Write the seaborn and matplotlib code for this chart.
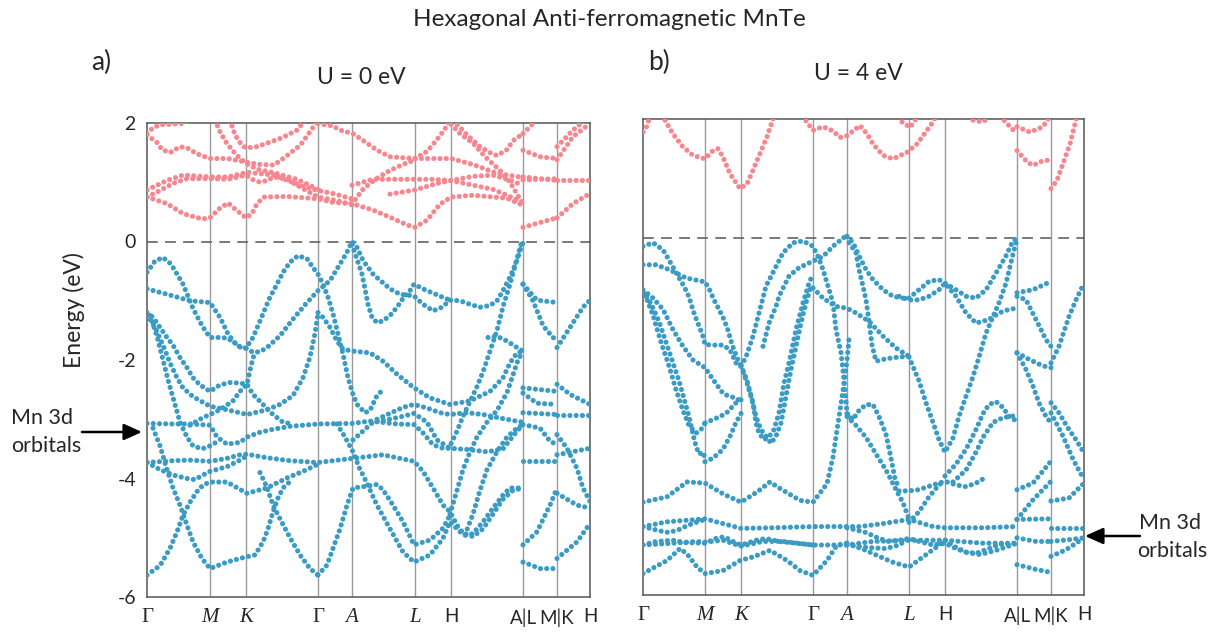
import matplotlib
matplotlib.use("Agg")
import matplotlib.pyplot as plt
import pandas as pd
import seaborn as sns

PINK = "#F7868F"
BLUE = "#3A9BC4"

# high-symmetry path positions (k-path distance units) and their labels
KPATH_A = [0, 63, 99, 171, 205, 268, 304, 376, 410, 443]
KPATH_B = [0, 62, 98, 170, 204, 266, 302, 374, 408, 441]
KLABELS = ["Γ", "M", "K", "Γ", "A", "L", "H", "A|L", "M|K", "H"]
YTICKS = [-6, -4, -2, 0, 1, 2]
YTICKLABELS = ["-6", "-4", "-2", "0", "", "2"]

# ---------------- U = 0 eV : conduction bands (k, E) ----------------
A_COND = [
    [(0, 0.75), (20, 0.64), (36, 0.47), (55, 0.38), (63, 0.40), (72, 0.55), (81, 0.65), (90, 0.52),
     (99, 0.40), (105, 0.47), (110, 0.64), (117, 0.75), (140, 0.76), (171, 0.72), (186, 0.66),
     (205, 0.64), (226, 0.53), (243, 0.41), (260, 0.28), (268, 0.24), (280, 0.36), (293, 0.63),
     (304, 0.75), (326, 0.78), (360, 0.73), (376, 0.61)],
    [(0, 0.87), (20, 1.03), (36, 1.12), (63, 1.09), (81, 1.09), (96, 1.15), (99, 1.17), (110, 1.15),
     (127, 1.12), (153, 0.95), (171, 0.86), (186, 0.81), (205, 0.72)],
    [(0, 0.75), (13, 0.86), (26, 0.98), (40, 1.06), (63, 1.06), (81, 1.05), (99, 1.12), (105, 1.05),
     (113, 1.00), (120, 1.03), (127, 1.09), (140, 1.05), (153, 0.92), (171, 0.75), (190, 0.69), (205, 0.62)],
    [(0, 1.80), (10, 1.67), (15, 1.55), (23, 1.50), (33, 1.60), (40, 1.58), (50, 1.48), (63, 1.40),
     (81, 1.40), (99, 1.34), (113, 1.30), (127, 1.29), (140, 1.45), (153, 1.62), (160, 1.78),
     (167, 1.95), (170, 2.05)],
    [(0, 1.82), (6, 1.92), (13, 1.97), (36, 1.99), (42, 2.05)],
    [(68, 2.05), (73, 1.85), (80, 1.65), (90, 1.45), (99, 1.32), (110, 1.22), (127, 1.16), (150, 1.05), (171, 0.88)],
    [(83, 2.05), (88, 1.80), (95, 1.62), (99, 1.58), (110, 1.60), (120, 1.66), (135, 1.75), (150, 1.88), (158, 2.05)],
    [(171, 1.99), (186, 1.95), (193, 1.88), (206, 1.82), (220, 1.66), (230, 1.54), (243, 1.43),
     (268, 1.40), (290, 1.40), (304, 1.40), (326, 1.30), (350, 1.15), (376, 1.08)],
    [(306, 2.05), (320, 1.80), (333, 1.60), (343, 1.50), (350, 1.45), (360, 1.55), (366, 1.70), (376, 1.82)],
    [(304, 1.98), (313, 1.82), (326, 1.66), (340, 1.40), (353, 1.20), (363, 1.00), (370, 0.80), (376, 0.63)],
    [(268, 1.40), (280, 1.52), (290, 1.72), (298, 1.90), (302, 2.05)],
    [(205, 0.95), (226, 1.05), (250, 1.05), (268, 1.05), (286, 1.05), (304, 1.03), (326, 0.95),
     (346, 0.88), (360, 0.78), (376, 0.66)],
    [(243, 0.80), (268, 0.87), (290, 0.98), (304, 1.03), (326, 1.10), (346, 1.12), (360, 1.05), (376, 0.95)],
    [(205, 0.62), (210, 0.75), (216, 0.88), (223, 0.98), (233, 1.10), (243, 1.20), (256, 1.30), (268, 1.38)],
    # L -> M
    [(376, 1.82), (386, 1.99), (390, 2.05)],
    [(376, 1.54), (393, 1.43), (410, 1.40)],
    [(376, 1.09), (410, 1.03)],
    [(376, 1.04), (410, 1.06)],
    [(376, 0.24), (393, 0.32), (410, 0.40)],
    # K -> H
    [(410, 1.60), (426, 1.88), (438, 2.05)],
    [(410, 1.38), (426, 1.77), (443, 1.99)],
    [(410, 1.03), (443, 1.03)],
    [(410, 0.40), (426, 0.64), (443, 0.81)],
]

# ---------------- U = 0 eV : valence bands (k, E) ----------------
A_VAL = [
    [(0, -0.52), (8, -0.33), (16, -0.27), (24, -0.38), (30, -0.55), (36, -0.72), (46, -1.13),
     (55, -1.42), (63, -1.62), (72, -1.62), (80, -1.63), (87, -1.70), (93, -1.78), (99, -1.80),
     (106, -1.87), (113, -1.86), (120, -1.79), (133, -1.59), (146, -1.31), (160, -1.03), (171, -0.83),
     (183, -0.66), (193, -0.38), (200, -0.18), (205, 0.0), (210, -0.10), (216, -0.32), (226, -0.55),
     (243, -0.80), (253, -0.89), (267, -0.92), (276, -1.06), (286, -1.17), (295, -1.11), (303, -0.99),
     (313, -1.00), (323, -1.06), (333, -1.11), (343, -1.08), (350, -1.00), (356, -0.83), (363, -0.60),
     (370, -0.32), (374, -0.10), (376, -0.02)],
    [(0, -0.80), (20, -0.89), (43, -1.00), (63, -1.03), (73, -1.28), (81, -1.56), (90, -1.76),
     (99, -1.80), (106, -1.62), (113, -1.34), (118, -1.14), (123, -0.94), (130, -0.72), (136, -0.52),
     (143, -0.35), (151, -0.24), (160, -0.29), (166, -0.44), (171, -0.55), (176, -0.72), (181, -0.94),
     (186, -1.22), (191, -1.56), (196, -1.90), (201, -2.30), (206, -2.58), (210, -2.75), (218, -2.89),
     (223, -2.85), (230, -2.60), (236, -2.50)],
    [(171, -1.20), (176, -1.28), (183, -1.45), (190, -1.68), (196, -1.82), (206, -1.85), (223, -1.88),
     (236, -2.02), (250, -2.24), (267, -2.47), (283, -2.64), (303, -2.75), (323, -2.69), (343, -2.53),
     (356, -2.30), (363, -2.05), (370, -1.88), (376, -1.85)],
    [(205, -0.05), (215, -0.55), (218, -0.80), (221, -1.06), (225, -1.28), (230, -1.37), (236, -1.34),
     (243, -1.25), (250, -1.11), (256, -0.96), (263, -0.83), (267, -0.72), (276, -0.80), (290, -0.90), (303, -0.99)],
    [(374, -0.05), (369, -0.35), (363, -0.72), (356, -1.10), (350, -1.50), (343, -1.85), (336, -2.20),
     (330, -2.45), (323, -2.70), (316, -2.95), (310, -3.20), (303, -3.45)],
    [(303, -4.60), (310, -4.20), (316, -3.85), (323, -3.55), (330, -3.30), (340, -3.05), (350, -2.85),
     (360, -2.55), (366, -2.25), (371, -2.00), (376, -1.85)],
    [(318, -4.95), (326, -4.60), (333, -4.20), (340, -3.85), (350, -3.55), (360, -3.30), (370, -3.15), (376, -3.09)],
    [(341, -1.62), (350, -1.60), (360, -1.68), (370, -1.79), (376, -1.85)],
    [(0, -1.20), (6, -1.28), (13, -1.45), (20, -1.62), (26, -1.75), (33, -1.96), (40, -2.13), (46, -2.30),
     (53, -2.42), (63, -2.53), (73, -2.42), (83, -2.38), (93, -2.39), (100, -2.41), (106, -2.58),
     (116, -2.75), (126, -2.92), (136, -3.05), (146, -3.08)],
    [(0, -1.23), (8, -1.45), (16, -1.75), (23, -2.05), (30, -2.30), (36, -2.47), (46, -2.62), (63, -2.78),
     (80, -2.84), (100, -2.92), (120, -2.84), (133, -2.75), (146, -2.60), (156, -2.30), (163, -1.95),
     (168, -1.55), (171, -1.22)],
    [(3, -1.25), (10, -1.60), (16, -2.00), (22, -2.40), (28, -2.75), (33, -3.05), (40, -3.30), (46, -3.45),
     (55, -3.50), (63, -3.45), (73, -3.35)],
    [(43, -3.10), (55, -2.98), (63, -2.92), (73, -2.84), (86, -2.69), (93, -2.53), (100, -2.41),
     (104, -2.10), (108, -1.85)],
    [(0, -3.07), (26, -3.08), (43, -3.08), (63, -3.10), (70, -3.30), (80, -3.42), (93, -3.39), (100, -3.30),
     (113, -3.22), (126, -3.17), (143, -3.12), (171, -3.08), (206, -3.07), (223, -3.03), (250, -3.08),
     (267, -3.09), (276, -3.23), (286, -3.43), (296, -3.49), (303, -3.49), (320, -3.51), (340, -3.55),
     (356, -3.50), (370, -3.20), (376, -3.09)],
    [(0, -3.73), (26, -3.70), (43, -3.69), (63, -3.71), (80, -3.66), (93, -3.60), (100, -3.59), (120, -3.65),
     (143, -3.70), (171, -3.73), (206, -3.66), (236, -3.60), (267, -3.71), (276, -3.88), (286, -4.16),
     (296, -4.45), (303, -4.56), (310, -4.79), (318, -4.96), (326, -4.93), (336, -4.73), (346, -4.50),
     (356, -4.28), (363, -4.16), (376, -4.16)],
    [(0, -3.73), (13, -3.85), (26, -3.94), (40, -4.00), (48, -4.02), (55, -3.95), (63, -3.88), (80, -3.80),
     (93, -3.69), (100, -3.62)],
    [(0, -5.63), (13, -5.47), (23, -5.18), (30, -4.90), (36, -4.62), (43, -4.40), (50, -4.22), (56, -4.11),
     (63, -4.06), (80, -4.06), (100, -4.25), (120, -4.16), (140, -3.99), (156, -3.88), (171, -3.76)],
    [(6, -3.15), (13, -3.45), (20, -3.85), (26, -4.16), (33, -4.45), (40, -4.79), (46, -5.07), (55, -5.35),
     (63, -5.52), (80, -5.41), (93, -5.35), (100, -5.32), (108, -5.29), (116, -5.07), (121, -4.85),
     (126, -4.56), (131, -4.33), (136, -4.16), (143, -4.05)],
    [(113, -3.90), (120, -4.15), (126, -4.45), (133, -4.68), (143, -5.00), (153, -5.29), (163, -5.52), (171, -5.63)],
    [(171, -5.63), (180, -5.46), (186, -5.18), (193, -4.85), (200, -4.45), (206, -4.16), (220, -4.13),
     (230, -4.10), (236, -4.19), (246, -4.45), (256, -4.73), (267, -5.12), (283, -5.04), (296, -4.84), (303, -4.62)],
    [(190, -3.08), (198, -3.30), (206, -3.55), (213, -3.85), (216, -3.94), (230, -4.45), (243, -4.85),
     (256, -5.24), (267, -5.41), (283, -5.29), (296, -5.01), (303, -4.73), (313, -4.90), (326, -4.98),
     (336, -4.85), (346, -4.60), (356, -4.35), (366, -4.20), (376, -4.16)],
    [(230, -3.00), (243, -2.90), (256, -2.80), (267, -2.75), (280, -2.81), (293, -2.89), (303, -2.92),
     (320, -2.89), (336, -2.92), (353, -2.98), (376, -3.05)],
    [(206, -3.35), (226, -3.05), (243, -3.00), (256, -2.95), (267, -2.90), (280, -3.05), (290, -3.35), (303, -3.49)],
    # L -> M
    [(376, -0.72), (390, -0.99), (410, -1.03)],
    [(376, -0.72), (386, -1.00), (396, -1.42), (406, -1.62), (410, -1.66)],
    [(376, -2.47), (410, -2.53)],
    [(376, -2.56), (390, -2.73), (410, -2.75)],
    [(376, -2.89), (410, -2.92)],
    [(376, -3.09), (393, -3.15), (403, -3.37), (410, -3.43)],
    [(376, -3.71), (410, -3.71)],
    [(376, -5.12), (390, -4.90), (403, -4.45), (410, -4.16)],
    [(376, -5.41), (393, -5.52), (410, -5.52)],
    # K -> H
    [(410, -1.79), (423, -1.45), (436, -1.11), (443, -0.99)],
    [(410, -2.41), (423, -2.58), (443, -2.75)],
    [(410, -2.92), (443, -2.92)],
    [(410, -3.26), (420, -3.49), (430, -3.83), (436, -4.16), (443, -4.39)],
    [(410, -3.60), (443, -3.49)],
    [(410, -4.25), (430, -4.45), (443, -4.50)],
    [(410, -5.35), (430, -5.07), (443, -4.76)],
]

# ---------------- U = 4 eV : conduction bands (k, E) ----------------
B_COND = [
    [(0, 1.78), (4, 1.88), (7, 2.05)],
    [(22, 1.98), (30, 1.75), (40, 1.53), (50, 1.39), (62, 1.33), (70, 1.47), (75, 1.50), (80, 1.36),
     (87, 1.08), (97, 0.83), (104, 0.91), (110, 1.14), (117, 1.42), (124, 1.70), (129, 1.95), (131, 2.05)],
    [(163, 1.97), (170, 1.81), (180, 1.87), (190, 1.80), (197, 1.69), (204, 1.72), (214, 1.85), (217, 1.89),
     (224, 1.75), (230, 1.58), (240, 1.39), (250, 1.33), (264, 1.44), (274, 1.58), (284, 1.81), (290, 1.95), (293, 2.05)],
    [(259, 1.95), (267, 1.86), (275, 2.05)],
    [(330, 1.98), (340, 1.95), (347, 2.05)],
    [(357, 2.05), (367, 1.87), (374, 1.75)],
    [(374, 1.87), (387, 1.78), (400, 1.87), (407, 2.05)],
    [(374, 1.47), (384, 1.28), (390, 1.22), (400, 1.30), (408, 1.31)],
    [(408, 0.83), (414, 0.97), (420, 1.25), (427, 1.58), (432, 1.92), (434, 2.05)],
]

# ---------------- U = 4 eV : valence bands (k, E) ----------------
B_VAL = [
    [(0, -0.14), (10, -0.08), (20, -0.20), (26, -0.37), (31, -0.52), (36, -0.67), (41, -0.81), (46, -0.99),
     (51, -1.26), (56, -1.48), (60, -1.65), (62, -1.79), (70, -1.80), (80, -1.80), (87, -1.88), (93, -2.10), (98, -2.13)],
    [(0, -0.45), (13, -0.45), (26, -0.53), (43, -0.67), (62, -0.74), (66, -0.85), (71, -1.04), (76, -1.20),
     (81, -1.37), (85, -1.55), (88, -1.73), (91, -1.88), (95, -2.05), (98, -2.15)],
    [(98, -2.15), (103, -2.00), (110, -1.65), (116, -1.26), (123, -0.81), (133, -0.48), (140, -0.25),
     (150, -0.08), (160, -0.05), (170, -0.14), (175, -0.31), (180, -0.53), (185, -0.81), (190, -1.09),
     (193, -1.54), (198, -1.93), (201, -2.38), (204, -2.94), (208, -3.05)],
    [(98, -2.13), (104, -2.40), (110, -2.77), (113, -3.11), (116, -3.28), (121, -3.39), (126, -3.34),
     (131, -3.22), (136, -2.94), (141, -2.44), (146, -2.10), (153, -1.54), (160, -1.09), (166, -0.76), (170, -0.60)],
    [(98, -2.16), (103, -2.38), (108, -2.66), (113, -3.00), (118, -3.22), (123, -3.33), (128, -3.45),
     (133, -3.33), (138, -3.11), (143, -2.66), (148, -2.21), (153, -1.82), (158, -1.43), (163, -1.09), (168, -0.81)],
    [(120, -1.82), (126, -1.43), (133, -1.15), (136, -0.98), (146, -0.64), (156, -0.50), (166, -0.42),
     (170, -0.39), (180, -0.31), (190, -0.14), (200, 0.0), (204, 0.03)],
    [(204, 0.03), (210, -0.08), (216, -0.30), (223, -0.53), (230, -0.70), (240, -0.87), (250, -0.98),
     (260, -1.01), (266, -1.01), (276, -0.87), (286, -0.73), (296, -0.70), (302, -0.76), (313, -0.87),
     (323, -0.98), (333, -1.01), (343, -0.87), (353, -0.59), (363, -0.30), (370, -0.05), (374, 0.0)],
    [(256, -0.98), (266, -1.04), (276, -1.04), (286, -0.98), (296, -0.87), (302, -0.76), (313, -0.98),
     (323, -1.26), (333, -1.43), (346, -1.37), (356, -1.26), (366, -1.20), (374, -1.18)],
    [(266, -2.00), (276, -2.40), (283, -2.77), (290, -3.10), (296, -3.39), (302, -3.60), (310, -3.36),
     (316, -3.00), (323, -2.66), (330, -2.33), (336, -2.00), (343, -1.60), (350, -1.32), (356, -1.09),
     (363, -0.76), (370, -0.27), (374, -0.02)],
    [(170, -0.84), (180, -1.01), (193, -1.15), (204, -1.18), (213, -1.26), (226, -1.40), (240, -1.65),
     (253, -1.85), (266, -1.99)],
    [(206, -0.08), (213, -0.25), (216, -0.53), (220, -0.81), (223, -1.04), (226, -1.40), (229, -1.80),
     (233, -2.07), (243, -2.03), (256, -2.00), (266, -1.99)],
    [(0, -0.87), (10, -1.01), (20, -1.20), (30, -1.54), (40, -1.82), (50, -2.05), (62, -2.18), (73, -2.45),
     (80, -2.61), (86, -2.66), (93, -2.69), (98, -2.75)],
    [(62, -3.11), (73, -3.03), (83, -2.95), (93, -2.77), (98, -2.72)],
    [(62, -3.76), (70, -3.70), (80, -3.55), (88, -3.30), (93, -3.10), (98, -2.95)],
    [(0, -0.90), (8, -1.10), (16, -1.40), (23, -1.75), (30, -2.10), (36, -2.40), (41, -2.70), (46, -3.00),
     (50, -3.30), (53, -3.50), (56, -3.63), (60, -3.60), (62, -3.70)],
    [(2, -0.95), (10, -1.30), (18, -1.75), (26, -2.15), (33, -2.55), (40, -2.90), (46, -3.15), (53, -3.28),
     (58, -3.22), (62, -3.11)],
    [(204, -3.00), (213, -3.15), (223, -3.35), (233, -3.63), (243, -3.90), (253, -4.23), (260, -4.45), (266, -4.72)],
    [(204, -2.95), (210, -3.05), (216, -2.90), (223, -2.80), (230, -2.80), (236, -3.00), (243, -3.30),
     (248, -3.70), (252, -4.05), (256, -4.20)],
    [(302, -4.00), (313, -3.80), (323, -3.55), (333, -3.22), (340, -2.95), (346, -2.80), (353, -2.75),
     (360, -2.85), (366, -3.00), (374, -3.08)],
    [(310, -4.10), (323, -3.90), (333, -3.60), (340, -3.35), (350, -3.10), (360, -3.02), (374, -2.98)],
    [(256, -4.25), (266, -4.25), (276, -4.23), (290, -4.15), (302, -4.09), (313, -4.15), (323, -4.18),
     (333, -4.12), (340, -4.05)],
    [(266, -4.78), (276, -4.60), (286, -4.35), (296, -4.15), (302, -4.08)],
    [(0, -4.44), (24, -4.35), (44, -4.10), (62, -4.12), (80, -4.30), (98, -4.44), (114, -4.27), (127, -4.10),
     (137, -4.21), (157, -4.41), (170, -4.44), (184, -4.13), (190, -3.68), (195, -3.12), (200, -2.56),
     (204, -2.06), (206, -1.70)],
    [(0, -4.85), (24, -4.77), (62, -4.72), (80, -4.80), (98, -4.88), (130, -4.87), (170, -4.85), (204, -4.85),
     (217, -4.85), (240, -4.80), (266, -4.73), (290, -4.85), (302, -4.87), (340, -4.87), (374, -4.85)],
    [(0, -4.85), (16, -4.92), (26, -4.95), (36, -4.90), (46, -4.82), (62, -4.73)],
    [(0, -5.16), (30, -5.13), (53, -5.10), (62, -5.11), (80, -5.08), (98, -5.18), (120, -5.10), (140, -5.10),
     (170, -5.16), (204, -5.16), (230, -5.10), (266, -5.08), (302, -5.08), (340, -5.13), (374, -5.13)],
    [(0, -5.16), (13, -5.10), (30, -5.08), (43, -5.12), (62, -5.13), (73, -5.05), (81, -5.02), (90, -5.10),
     (98, -5.16), (113, -5.08), (123, -5.05), (136, -5.10), (153, -5.13), (170, -5.16)],
    [(204, -5.16), (223, -5.20), (243, -5.22), (256, -5.16), (266, -5.05), (276, -5.10), (290, -5.16),
     (302, -5.13), (313, -5.22), (323, -5.28), (333, -5.30), (346, -5.22), (356, -5.15), (374, -5.13)],
    [(204, -4.87), (223, -4.95), (236, -5.05), (246, -5.10), (256, -5.08), (266, -5.05)],
    [(0, -5.64), (24, -5.42), (37, -5.22), (44, -5.31), (54, -5.53), (62, -5.64), (80, -5.59), (97, -5.42),
     (110, -5.36), (127, -5.25), (144, -5.42), (157, -5.59), (170, -5.67), (184, -5.42), (194, -5.16), (204, -5.13)],
    [(204, -5.13), (223, -5.25), (236, -5.35), (250, -5.45), (266, -5.53), (280, -5.36), (293, -5.20), (302, -5.08)],
    [(302, -5.08), (313, -5.20), (323, -5.28), (337, -5.32), (353, -5.25), (374, -5.13)],
    # L -> M
    [(374, -0.92), (390, -0.87), (408, -0.73)],
    [(374, -0.98), (383, -1.04), (393, -1.37), (403, -1.71), (408, -1.82)],
    [(374, -1.93), (386, -2.04), (400, -2.15), (408, -2.18)],
    [(374, -1.93), (383, -2.21), (390, -2.49), (396, -2.77), (403, -3.00), (408, -3.11)],
    [(374, -4.23), (390, -4.12), (408, -3.75)],
    [(374, -4.73), (390, -4.40), (408, -4.09)],
    [(374, -4.73), (408, -4.72)],
    [(374, -5.04), (393, -5.10), (408, -5.10)],
    [(374, -5.49), (393, -5.57), (408, -5.62)],
    # K -> H
    [(408, -2.10), (416, -1.82), (426, -1.32), (433, -1.04), (441, -0.76)],
    [(408, -2.77), (416, -2.94), (426, -3.22), (433, -3.39), (441, -3.61)],
    [(408, -2.94), (420, -3.33), (430, -3.72), (441, -4.06)],
    [(408, -4.42), (426, -4.37), (441, -4.12)],
    [(408, -4.87), (441, -4.87)],
    [(408, -5.10), (426, -5.07), (441, -5.04)],
    [(408, -5.35), (423, -5.24), (441, -5.04)],
]

sns.set_theme(style="white")
plt.rcParams["font.family"] = ["Lato", "DejaVu Sans"]

W, H = 1217, 633
fig = plt.figure(figsize=(W / 100, H / 100), dpi=100)


def fx(px):
    return px / W


def fy(py):
    return 1 - py / H


def bands_frame(cond, val):
    rows = []
    for i, band in enumerate(val):
        for k, e in band:
            rows.append((f"v{i}", "val", k, e))
    for i, band in enumerate(cond):
        for k, e in band:
            rows.append((f"c{i}", "cond", k, e))
    return pd.DataFrame(rows, columns=["band", "kind", "k", "E"])


def draw_panel(ax, cond, val, kpath, ylabels):
    df = bands_frame(cond, val)
    sns.lineplot(data=df, x="k", y="E", hue="kind", units="band", estimator=None,
                 sort=False, palette={"val": BLUE, "cond": PINK}, legend=False,
                 linewidth=3.7, ax=ax)
    for ln in ax.get_lines():
        ln.set_linestyle((0, (0.01, 1.2)))
        ln.set_dash_capstyle("round")
        ln.set_zorder(3)
    for kx in kpath[1:-1]:
        ax.axvline(kx, color="#9a9a9a", lw=1.0, zorder=1)
    ax.axhline(0, color="#6e6e6e", lw=1.3, ls=(0, (6, 4)), zorder=2)
    ax.set_xlim(kpath[0], kpath[-1])
    ax.set_ylim(-6, 2)
    ax.set_xlabel("")
    ax.set_ylabel("")
    ax.set_yticks(YTICKS)
    ax.set_yticklabels(ylabels)
    ax.tick_params(axis="y", direction="in", length=5, width=1, color="#555555",
                   labelsize=14, pad=8)
    ax.set_xticks(kpath)
    ax.set_xticklabels(KLABELS)
    ax.tick_params(axis="x", length=0, pad=8)
    for lab in ax.get_xticklabels():
        t = lab.get_text()
        if t in ("M", "K", "A", "L"):
            lab.set_fontfamily("Liberation Serif")
            lab.set_fontstyle("italic")
            lab.set_fontsize(15)
        elif t == "Γ":
            lab.set_fontfamily("Liberation Serif")
            lab.set_fontsize(15)
        else:
            lab.set_fontsize(13.5)
    for sp in ax.spines.values():
        sp.set_visible(True)
        sp.set_color("#555555")
        sp.set_linewidth(1.1)


ax_a = fig.add_axes([fx(147), fy(597), fx(590) - fx(147), fy(123) - fy(597)])
ax_b = fig.add_axes([fx(643), fy(595), fx(1084) - fx(643), fy(119) - fy(595)])
draw_panel(ax_a, A_COND, A_VAL, KPATH_A, YTICKLABELS)
draw_panel(ax_b, B_COND, B_VAL, KPATH_B, [""] * len(YTICKS))

fig.text(fx(609), fy(19), "Hexagonal Anti-ferromagnetic MnTe", ha="center", va="center", fontsize=17.5)
fig.text(fx(101), fy(62), "a)", ha="center", va="center", fontsize=19)
fig.text(fx(659), fy(62), "b)", ha="center", va="center", fontsize=19)
fig.text(fx(361), fy(78), "U = 0 eV", ha="center", va="center", fontsize=16.5)
fig.text(fx(858), fy(74), "U = 4 eV", ha="center", va="center", fontsize=16.5)
fig.text(fx(74), fy(310), "Energy (eV)", ha="center", va="center", rotation=90, fontsize=16.5)

# Mn 3d labels with arrows
fig.text(fx(11), fy(418), "Mn 3d", ha="left", va="center", fontsize=15.5)
fig.text(fx(11), fy(446), "orbitals", ha="left", va="center", fontsize=15.5)
fig.text(fx(1139), fy(523), "Mn 3d", ha="left", va="center", fontsize=15.5)
fig.text(fx(1137), fy(551), "orbitals", ha="left", va="center", fontsize=15.5)
arrow_kw = dict(arrowstyle="-|>,head_length=1.0,head_width=0.45", color="black", lw=1.8,
                mutation_scale=11, shrinkA=0, shrinkB=0)
fig.add_artist(matplotlib.patches.FancyArrowPatch((fx(82), fy(432)), (fx(142), fy(432)),
                                                  transform=fig.transFigure, **arrow_kw))
fig.add_artist(matplotlib.patches.FancyArrowPatch((fx(1140), fy(536)), (fx(1085), fy(536)),
                                                  transform=fig.transFigure, **arrow_kw))

fig.savefig("out.png", dpi=100)
